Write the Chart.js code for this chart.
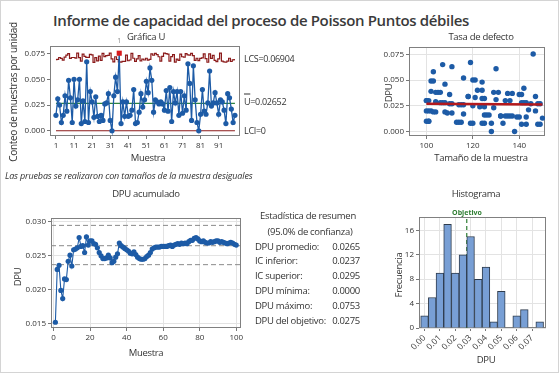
<!DOCTYPE html>
<html lang="es">
<head>
<meta charset="UTF-8" />
<title>Informe de capacidad del proceso de Poisson</title>
<script src="https://cdn.jsdelivr.net/npm/chart.js"></script>
<style>
  html, body { margin: 0; padding: 0; }
  body { width: 559px; height: 373px; position: relative; background: #fff; font-family: 'Open Sans', sans-serif; color: #333; overflow: hidden; }
  #marco { position: absolute; left: 0; top: 0; width: 557px; height: 371px; border: 1px solid #d4d4d4; }
  canvas { position: absolute; }
  .t { position: absolute; white-space: nowrap; font-size: 9.5px; letter-spacing: -0.3px; line-height: 1; }
  .c { transform: translate(-50%, -50%); }
  .v { transform: translate(-50%, -50%) rotate(-90deg); }
  .l { transform: translateY(-50%); }
  .r { transform: translate(-100%, -50%); }
</style>
</head>
<body>
<div id="marco"></div>
<canvas id="graficaU"></canvas>
<canvas id="tasa"></canvas>
<canvas id="acumulado"></canvas>
<canvas id="histo"></canvas>

<div class="t c" style="left:261px;top:20px;font-size:15px;font-weight:600;letter-spacing:-0.35px;color:#3a3a3a">Informe de capacidad del proceso de Poisson Puntos débiles</div>

<div class="t c" style="left:146px;top:37px">Gráfica U</div>
<div class="t v" style="left:13px;top:92px;font-size:10px">Conteo de muestras por unidad</div>
<div class="t c" style="left:148px;top:158px">Muestra</div>
<div class="t l" style="left:244px;top:58px;font-size:9px">LCS=0.06904</div>
<div class="t l" style="left:244px;top:101px;font-size:9px"><span style="text-decoration:overline">U</span>=0.02652</div>
<div class="t l" style="left:244px;top:130px;font-size:9px">LCI=0</div>
<div class="t c" style="left:119px;top:40px;font-size:7px;color:#888">1</div>
<div class="t l" style="left:5px;top:175px;font-style:italic;font-size:9px;letter-spacing:-0.15px">Las pruebas se realizaron con tamaños de la muestra desiguales</div>

<div class="t c" style="left:481px;top:37px">Tasa de defecto</div>
<div class="t v" style="left:389px;top:93px">DPU</div>
<div class="t c" style="left:481px;top:158px">Tamaño de la muestra</div>

<div class="t c" style="left:146px;top:194px">DPU acumulado</div>
<div class="t v" style="left:18px;top:277px">DPU</div>
<div class="t c" style="left:146px;top:353px">Muestra</div>

<div class="t c" style="left:308px;top:216px">Estadística de resumen</div>
<div class="t c" style="left:310px;top:232px">(95.0% de confianza)</div>
<div id="resumen"></div>

<div class="t c" style="left:476px;top:194px">Histograma</div>
<div class="t c" style="left:467px;top:212px;font-size:7px;font-weight:700;letter-spacing:0;color:#2e7d32">Objetivo</div>
<div class="t v" style="left:399px;top:275px">Frecuencia</div>
<div class="t c" style="left:486px;top:360px">DPU</div>

<script>
  const dpu = [
    0.015, 0.031, 0.025, 0.008, 0.015, 0.034, 0.019, 0.049, 0.032, 0.008,
    0.050, 0.024, 0.030, 0.050, 0.007, 0.029, 0.009, 0.067, 0.008, 0.038,
    0.028, 0.013, 0.033, 0.014, 0.009, 0.015, 0.010, 0.026, 0.027, 0.036,
    0.010, 0.000, 0.034, 0.052, 0.038, 0.0753, 0.007, 0.028, 0.014, 0.028,
    0.014, 0.015, 0.020, 0.040, 0.007, 0.008, 0.018, 0.036, 0.023, 0.030,
    0.048, 0.037, 0.061, 0.049, 0.018, 0.030, 0.028, 0.026, 0.028, 0.026,
    0.020, 0.039, 0.019, 0.042, 0.009, 0.038, 0.027, 0.038, 0.015, 0.038,
    0.017, 0.034, 0.020, 0.065, 0.046, 0.010, 0.063, 0.030, 0.008, 0.000,
    0.016, 0.040, 0.019, 0.016, 0.027, 0.058, 0.024, 0.027, 0.037, 0.027,
    0.016, 0.030, 0.028, 0.020, 0.007, 0.036, 0.032, 0.021, 0.008, 0.015
  ];
  // tamaño de cada muestra
  const tamano = [
    132, 130, 120, 125, 135, 118, 108, 102, 125, 120,
    120, 123, 100, 121, 141, 104, 114, 119, 119, 105,
    107, 150, 121, 140, 113, 136, 101, 115, 111, 110,
    100, 128, 147, 116, 131, 146, 148, 143, 143, 108,
    139, 134, 101, 124, 143, 128, 111, 140, 129, 134,
    124, 135, 130, 103, 109, 101, 106, 116, 142, 114,
    100, 102, 104, 142, 115, 106, 148, 129, 137, 104,
    116, 118, 102, 107, 108, 101, 111, 136, 124, 138,
    125, 122, 103, 126, 149, 103, 125, 110, 137, 145,
    127, 100, 141, 147, 149, 141, 124, 144, 133, 132
  ];
  const uBarra = 0.02652;
  const lci = 0;
  // DPU acumulado
  const acumulado = [
    0.0152, 0.0230, 0.0236, 0.0199, 0.0187, 0.0216, 0.0215, 0.0242, 0.0251, 0.0235,
    0.0259, 0.0260, 0.0262, 0.0277, 0.0264, 0.0265, 0.0255, 0.0278, 0.0266, 0.0272,
    0.0272, 0.0268, 0.0267, 0.0262, 0.0255, 0.0250, 0.0246, 0.0246, 0.0247, 0.0251,
    0.0247, 0.0240, 0.0242, 0.0248, 0.0253, 0.0269, 0.0265, 0.0263, 0.0261, 0.0259,
    0.0257, 0.0254, 0.0253, 0.0256, 0.0252, 0.0248, 0.0246, 0.0245, 0.0245, 0.0246,
    0.0249, 0.0251, 0.0255, 0.0260, 0.0262, 0.0263, 0.0263, 0.0263, 0.0264, 0.0264,
    0.0264, 0.0264, 0.0265, 0.0266, 0.0264, 0.0266, 0.0267, 0.0268, 0.0267, 0.0269,
    0.0268, 0.0269, 0.0268, 0.0271, 0.0273, 0.0273, 0.0276, 0.0277, 0.0275, 0.0272,
    0.0271, 0.0272, 0.0270, 0.0269, 0.0269, 0.0271, 0.0270, 0.0271, 0.0272, 0.0272,
    0.0270, 0.0271, 0.0270, 0.0269, 0.0268, 0.0269, 0.0270, 0.0269, 0.0267, 0.0266
  ];
  const lineasIC = [0.0295, 0.0265, 0.0237];
  const lineaTasa = [{ x: 100, y: 0.0270 }, { x: 150, y: 0.0262 }];
  // histograma
  const centrosDPU = [0, 0.005, 0.01, 0.015, 0.02, 0.025, 0.03, 0.035, 0.04, 0.045, 0.05, 0.055, 0.06, 0.065, 0.07, 0.075];
  const frecuencias = [2, 5, 9, 17, 9, 12, 15, 8, 10, 1, 6, 0, 2, 3, 0, 1];
  const objetivo = 0.0275;
  // marcas de ejes
  const ticksMuestraU = [1, 11, 21, 31, 41, 51, 61, 71, 81, 91];
  const ticksDPU = [0, 0.025, 0.05, 0.075];
  const ticksTamano = [100, 120, 140];
  const ticksMuestra = [0, 20, 40, 60, 80, 100];
  const ticksAcum = [0.015, 0.02, 0.025, 0.03];
  const ticksHistX = [0, 0.01, 0.02, 0.03, 0.04, 0.05, 0.06, 0.07];
  const ticksFrec = [0, 4, 8, 12, 16];
  // resumen
  const resumenEtiquetas = ['DPU promedio:', 'IC inferior:', 'IC superior:', 'DPU mínima:', 'DPU máximo:', 'DPU del objetivo:'];
  const resumenValores = ['0.0265', '0.0237', '0.0295', '0.0000', '0.0753', '0.0275'];

  const azul = '#1d5ba6', rojoOsc = '#8b1a1a', verde = '#2e8540', gris = '#777';

  Chart.defaults.font.family = "'Open Sans', sans-serif";
  Chart.defaults.font.size = 8;
  Chart.defaults.color = '#333';

  const marcoPlot = {
    id: 'marcoPlot',
    beforeDatasetsDraw(chart) {
      const a = chart.chartArea, ctx = chart.ctx;
      ctx.save();
      ctx.strokeStyle = '#808080';
      ctx.lineWidth = 1;
      ctx.strokeRect(Math.round(a.left) + 0.5, Math.round(a.top) + 0.5, Math.round(a.right - a.left) - 1, Math.round(a.bottom - a.top) - 1);
      ctx.restore();
    }
  };

  function eje(min, max, marcas, fmt, rejilla, extra) {
    return Object.assign({
      type: 'linear', min: min, max: max,
      afterBuildTicks: s => { s.ticks = marcas.map(v => ({ value: v })); },
      ticks: { autoSkip: false, padding: 2, callback: fmt },
      grid: { display: true, drawOnChartArea: rejilla, color: '#e3e3e3', tickColor: gris, tickLength: 3 },
      border: { display: false }
    }, extra || {});
  }

  // caja = [izq, arriba, ancho, alto] del canvas; area = [x0, y0, x1, y1] del área de trazado
  function montar(id, caja, area, config) {
    const cv = document.getElementById(id);
    cv.style.left = caja[0] + 'px';
    cv.style.top = caja[1] + 'px';
    cv.width = caja[2]; cv.height = caja[3];
    cv.style.width = caja[2] + 'px'; cv.style.height = caja[3] + 'px';
    const o = config.options;
    o.responsive = false;
    o.animation = false;
    o.devicePixelRatio = 1;
    o.layout = { padding: { top: area[1] - caja[1], right: caja[0] + caja[2] - area[2], left: 0, bottom: 0 } };
    o.scales.x.afterFit = s => { s.height = caja[1] + caja[3] - area[3]; };
    o.scales.y.afterFit = s => { s.width = area[0] - caja[0]; };
    o.plugins = { legend: { display: false }, tooltip: { enabled: false } };
    config.plugins = [marcoPlot];
    return new Chart(cv, config);
  }

  // Gráfica U
  const lcs = tamano.map(n => uBarra + 3 * Math.sqrt(uBarra / n));
  const fuera = dpu.map((v, i) => v > lcs[i]);
  montar('graficaU', [0, 34, 252, 136], [50, 46, 240, 136], {
    type: 'line',
    data: {
      datasets: [
        {
          data: dpu.map((v, i) => ({ x: i + 1, y: v })),
          borderColor: azul, borderWidth: 1.3,
          pointRadius: fuera.map(f => f ? 3.6 : 2.6),
          pointStyle: fuera.map(f => f ? 'rect' : 'circle'),
          pointBackgroundColor: fuera.map(f => f ? '#d7191c' : azul),
          pointBorderColor: fuera.map(f => f ? '#d7191c' : azul),
          pointBorderWidth: 0
        },
        { data: lcs.map((v, i) => ({ x: i + 1, y: v })), borderColor: rojoOsc, borderWidth: 1.2, pointRadius: 0, stepped: 'middle' },
        { data: [{ x: 1, y: uBarra }, { x: 100, y: uBarra }], borderColor: verde, borderWidth: 1.2, pointRadius: 0 },
        { data: [{ x: 1, y: lci }, { x: 100, y: lci }], borderColor: rojoOsc, borderWidth: 1.2, pointRadius: 0 }
      ]
    },
    options: {
      scales: {
        x: eje(-2.3, 102.8, ticksMuestraU, v => v, false),
        y: eje(-0.0051, 0.0823, ticksDPU, v => v.toFixed(3), false)
      }
    }
  });

  // Tasa de defecto
  montar('tasa', [360, 34, 197, 136], [409, 47, 545, 136], {
    type: 'scatter',
    data: {
      datasets: [
        { data: lineaTasa, showLine: true, borderColor: '#b3191d', borderWidth: 2.5, pointRadius: 0 },
        { data: dpu.map((v, i) => ({ x: tamano[i], y: v })), backgroundColor: azul, borderColor: azul, pointRadius: 2.7, pointBorderWidth: 0 }
      ]
    },
    options: {
      scales: {
        x: eje(92.5, 151.1, ticksTamano, v => v, true),
        y: eje(-0.0044, 0.0821, ticksDPU, v => v.toFixed(3), true)
      }
    }
  });

  // DPU acumulado
  const refs = lineasIC.map(y => ({
    data: [{ x: -1.4, y: y }, { x: 102.6, y: y }],
    borderColor: '#8a8a8a', borderWidth: 1, borderDash: [5, 3], pointRadius: 0
  }));
  montar('acumulado', [0, 205, 252, 140], [51, 218, 241, 328], {
    type: 'line',
    data: {
      datasets: [
        { data: acumulado.map((v, i) => ({ x: i + 1, y: v })), borderColor: azul, borderWidth: 1.1, pointRadius: 2.6, pointBackgroundColor: azul, pointBorderWidth: 0 }
      ].concat(refs)
    },
    options: {
      scales: {
        x: eje(-1.4, 102.6, ticksMuestra, v => v, true),
        y: eje(0.01435, 0.03059, ticksAcum, v => v.toFixed(3), true)
      }
    }
  });

  // Histograma
  montar('histo', [380, 205, 177, 165], [419, 217, 546, 328], {
    type: 'bar',
    data: {
      datasets: [
        {
          data: centrosDPU.map((c, i) => ({ x: c, y: frecuencias[i] })),
          backgroundColor: '#789fd5', borderColor: '#2f3c4d', borderWidth: 1,
          barPercentage: 1, categoryPercentage: 1, order: 1
        },
        {
          type: 'line', data: [{ x: objetivo, y: 0 }, { x: objetivo, y: 18.2 }],
          borderColor: '#2e7d32', borderWidth: 1.2, borderDash: [4, 3], pointRadius: 0, order: 2
        }
      ]
    },
    options: {
      scales: {
        x: eje(-0.0036, 0.0791, ticksHistX, v => v.toFixed(2), true,
          { offset: false }),
        y: eje(0, 18.2, ticksFrec, v => v, true)
      }
    }
  });
  const hx = Chart.getChart('histo').options.scales.x;
  hx.ticks.minRotation = 45; hx.ticks.maxRotation = 45;
  hx.ticks.font = { size: 8.5 };
  hx.grid.offset = false;
  Chart.getChart('histo').update();

  // tabla de resumen
  const caja = document.getElementById('resumen');
  resumenEtiquetas.forEach((e, i) => {
    const y = 246.5 + i * 14.8;
    caja.insertAdjacentHTML('beforeend',
      '<div class="t l" style="left:255px;top:' + y + 'px">' + e + '</div>' +
      '<div class="t r" style="left:360px;top:' + y + 'px">' + resumenValores[i] + '</div>');
  });
</script>
</body>
</html>
